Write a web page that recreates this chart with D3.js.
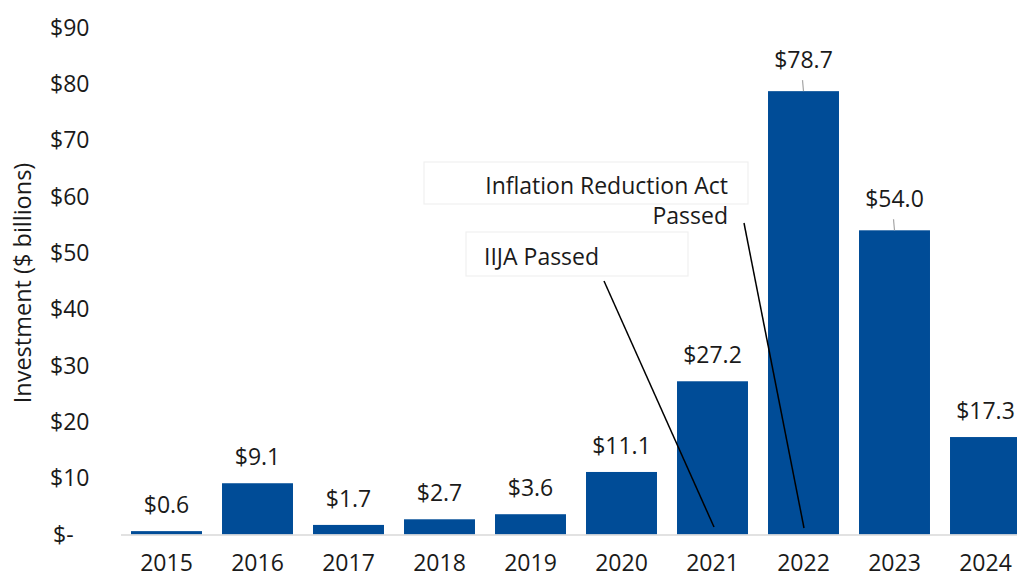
<!DOCTYPE html>
<html>
<head>
<meta charset="utf-8">
<script src="https://cdn.jsdelivr.net/npm/d3@7"></script>
<style>
  body { margin: 0; background: #fff; }
  text { font-family: "Open Sans", "Liberation Sans", Arial, sans-serif; fill: #1a1a1a; }
</style>
</head>
<body>
<svg id="chart" width="1017" height="577"></svg>
<script>
// data
var years = ["2015","2016","2017","2018","2019","2020","2021","2022","2023","2024"];
var investment = [0.6, 9.1, 1.7, 2.7, 3.6, 11.1, 27.2, 78.7, 54.0, 17.3];
var yTicks = [0,10,20,30,40,50,60,70,80,90];
var leaderYears = ["2022","2023"];   // labels lifted with a small gray leader

var notes = [
  {lines: ["Inflation Reduction Act", "Passed"], year: "2022"},
  {lines: ["IIJA Passed"], year: "2021"}
];

var svg = d3.select("#chart");
var blue = "#004c97";
var fs = "23px";

var x = d3.scaleBand()
  .domain(years)
  .range([121, 1031])
  .paddingInner(0.22)
  .paddingOuter(0.11);

var y = d3.scaleLinear()
  .domain([0, 90])
  .range([534.5, 27.5]);

// y tick labels (Excel accounting style, no gridlines)
svg.append("g").selectAll("text")
  .data(yTicks)
  .enter().append("text")
    .attr("x", function(d){ return d == 0 ? 53 : 50; })
    .attr("y", function(d){ return y(d); })
    .attr("dy", "0.35em")
    .style("font-size", fs)
    .text(function(d){ return d == 0 ? "$-" : "$" + d; });

svg.append("text")
  .attr("transform", "translate(31," + (y(45) + 2) + ") rotate(-90)")
  .attr("text-anchor", "middle")
  .style("font-size", "23.5px")
  .text("Investment ($ billions)");

// bars
svg.append("g").selectAll("rect")
  .data(years)
  .enter().append("rect")
    .attr("x", function(d){ return x(d); })
    .attr("width", x.bandwidth())
    .attr("y", function(d, i){ return y(investment[i]); })
    .attr("height", function(d, i){ return y(0) - y(investment[i]); })
    .attr("fill", blue);

// baseline
svg.append("line")
  .attr("x1", 121).attr("x2", 1017)
  .attr("y1", y(0) + 0.5).attr("y2", y(0) + 0.5)
  .attr("stroke", "#d9d9d9").attr("stroke-width", 1.5);

// category labels
svg.append("g").selectAll("text")
  .data(years)
  .enter().append("text")
    .attr("x", function(d){ return x(d) + x.bandwidth()/2; })
    .attr("y", 571)
    .attr("text-anchor", "middle")
    .style("font-size", fs)
    .text(function(d){ return d; });

// value labels
years.forEach(function(d, i) {
  var cx = x(d) + x.bandwidth()/2;
  var top = y(investment[i]);
  var lifted = leaderYears.indexOf(d) >= 0;
  var base = lifted ? top - 23 : top - 18;
  if (lifted) {
    svg.append("line")
      .attr("x1", cx - 1).attr("x2", cx)
      .attr("y1", base + 12).attr("y2", top)
      .attr("stroke", "#a6a6a6").attr("stroke-width", 1.2);
  }
  svg.append("text")
    .attr("x", cx)
    .attr("y", base)
    .attr("text-anchor", "middle")
    .style("font-size", fs)
    .text("$" + investment[i].toFixed(1));
});

// annotations
var ira = svg.append("g");
ira.append("rect")
  .attr("x", 424).attr("y", 162).attr("width", 324).attr("height", 42)
  .attr("fill", "#fff").attr("stroke", "#f0f0f0").attr("stroke-width", 1.2);
ira.selectAll("text").data(notes[0].lines).enter().append("text")
  .attr("x", 728)
  .attr("y", function(d, i){ return 194 + i*30; })
  .attr("text-anchor", "end")
  .style("font-size", fs)
  .text(function(d){ return d; });
ira.append("line")
  .attr("x1", 744).attr("y1", 223)
  .attr("x2", x(notes[0].year) + x.bandwidth()/2 + 0.5).attr("y2", 528)
  .attr("stroke", "#000").attr("stroke-width", 1.5);

var iija = svg.append("g");
iija.append("rect")
  .attr("x", 466).attr("y", 232).attr("width", 222).attr("height", 44)
  .attr("fill", "#fff").attr("stroke", "#f0f0f0").attr("stroke-width", 1.2);
iija.append("text")
  .attr("x", 484).attr("y", 265)
  .style("font-size", fs)
  .text(notes[1].lines[0]);
iija.append("line")
  .attr("x1", 604).attr("y1", 281)
  .attr("x2", x(notes[1].year) + x.bandwidth()/2 + 1.5).attr("y2", 527)
  .attr("stroke", "#000").attr("stroke-width", 1.5);
</script>
</body>
</html>
